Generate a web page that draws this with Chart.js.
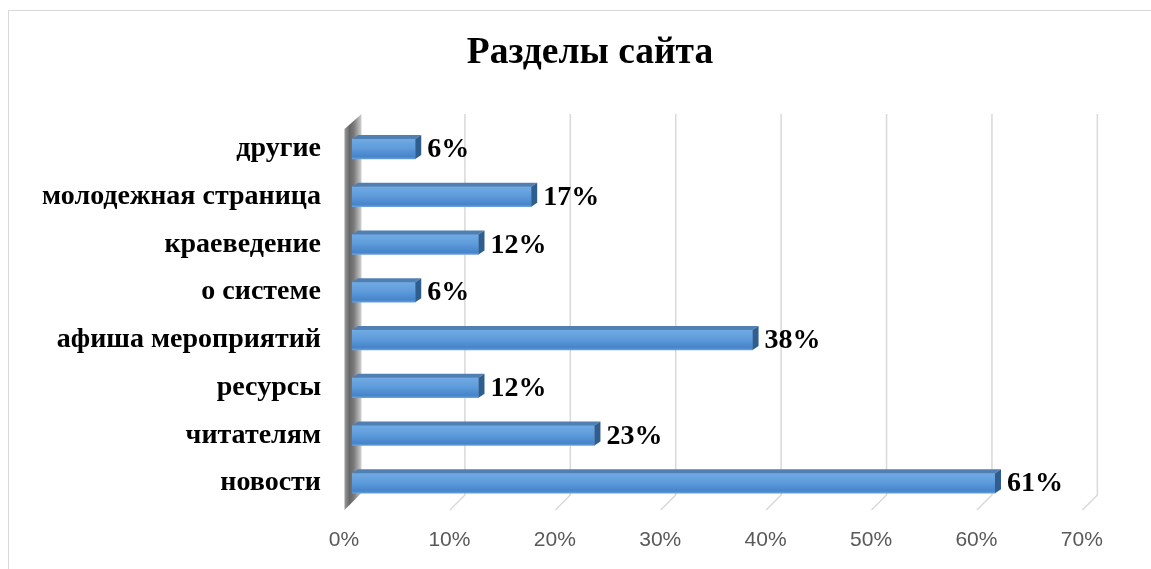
<!DOCTYPE html>
<html><head><meta charset="utf-8">
<script src="https://cdn.jsdelivr.net/npm/chart.js@4.4.0/dist/chart.umd.min.js"></script>
<style>html,body{margin:0;padding:0;background:#fff;} #wrap{width:1151px;height:569px;position:relative;} canvas{display:block;}</style>
</head><body><div id="wrap"><canvas id="c" width="1151" height="569"></canvas></div>
<script>
const titleText = 'Разделы сайта';
const categories = ['другие','молодежная страница','краеведение','о системе','афиша мероприятий','ресурсы','читателям','новости'];
const shares = [6,17,12,6,38,12,23,61];
const xTicks = [0,10,20,30,40,50,60,70];

const SERIF = '"Liberation Serif","Times New Roman",serif';
const DX = 6, DY = 4, DEPTH = 15;

const deco = {
  id: 'deco',
  beforeDraw(chart) {
    const c = chart.ctx;
    c.save();
    c.strokeStyle = '#d9d9d9'; c.lineWidth = 1;
    c.strokeRect(8.5, 10.5, 1400, 800);
    c.restore();
  },
  beforeDatasetsDraw(chart) {
    const {ctx, chartArea: a, scales: {x}} = chart;
    const backTop = a.top - 11, backBot = a.bottom - 12;
    ctx.save();
    ctx.strokeStyle = '#d9d9d9'; ctx.lineWidth = 1.5;
    xTicks.forEach(v => {
      if (v === 0) return;
      const bx = x.getPixelForValue(v) + DEPTH / 2;
      ctx.beginPath();
      ctx.moveTo(bx, backTop);
      ctx.lineTo(bx, backBot);
      ctx.lineTo(bx - DEPTH, backBot + DEPTH);
      ctx.stroke();
    });
    const wx = x.getPixelForValue(0) + DEPTH / 2 + 2;
    const W = DEPTH + 2;
    const g = ctx.createLinearGradient(wx - W, 0, wx, 0);
    g.addColorStop(0, '#9a9a9a');
    g.addColorStop(0.3, '#666666');
    g.addColorStop(0.55, '#7a7a7a');
    g.addColorStop(1, '#d0d0d0');
    ctx.fillStyle = g;
    ctx.beginPath();
    ctx.moveTo(wx, backTop);
    ctx.lineTo(wx, backBot - 2);
    ctx.lineTo(wx - W, backBot + DEPTH);
    ctx.lineTo(wx - W, backTop + DEPTH);
    ctx.closePath();
    ctx.fill();
    ctx.restore();
  },
  afterDatasetsDraw(chart) {
    const meta = chart.getDatasetMeta(0);
    const ctx = chart.ctx;
    ctx.save();
    meta.data.forEach((bar, i) => {
      const p = bar.getProps(['x', 'y', 'base', 'height'], true);
      const x1 = p.x, x0 = p.base, y = p.y, h = p.height;
      const top = y - h / 2, bot = y + h / 2;
      ctx.fillStyle = '#4f7fb3';
      ctx.beginPath();
      ctx.moveTo(x0, top); ctx.lineTo(x0 + DX, top - DY); ctx.lineTo(x1 + DX, top - DY); ctx.lineTo(x1, top);
      ctx.closePath(); ctx.fill();
      ctx.fillStyle = '#2f5e8e';
      ctx.beginPath();
      ctx.moveTo(x1, top); ctx.lineTo(x1 + DX, top - DY); ctx.lineTo(x1 + DX, bot - DY); ctx.lineTo(x1, bot);
      ctx.closePath(); ctx.fill();
      ctx.fillStyle = '#000';
      ctx.font = 'bold 28px ' + SERIF;
      ctx.textBaseline = 'middle';
      ctx.textAlign = 'left';
      ctx.fillText(shares[i] + '%', x1 + DX + 6, y + 1);
    });
    ctx.restore();
  }
};

new Chart(document.getElementById('c'), {
  type: 'bar',
  data: {
    labels: categories,
    datasets: [{
      data: shares,
      barThickness: 20,
      borderWidth: 0,
      backgroundColor: (c) => {
        const s = c.chart.scales && c.chart.scales.y;
        if (!s || !c.chart.chartArea || c.dataIndex === undefined) return '#5b9bd5';
        const yc = s.getPixelForValue(c.dataIndex);
        const g = c.chart.ctx.createLinearGradient(0, yc - 10, 0, yc + 10);
        g.addColorStop(0, '#72abe4');
        g.addColorStop(0.45, '#5e9cdb');
        g.addColorStop(0.9, '#4684cb');
        g.addColorStop(1, '#6a9fd6');
        return g;
      }
    }]
  },
  options: {
    indexAxis: 'y',
    responsive: false,
    animation: false,
    devicePixelRatio: 1,
    layout: { padding: { left: 29, right: 0, top: 0, bottom: 0 } },
    plugins: {
      legend: { display: false },
      tooltip: { enabled: false },
      title: {
        display: true,
        text: titleText,
        color: '#000',
        font: { family: SERIF, size: 37.5, weight: 'bold', lineHeight: 1.2 },
        padding: { top: 30.5, bottom: 49.5 }
      }
    },
    scales: {
      x: {
        min: 0, max: 75.8,
        afterBuildTicks: (s) => { s.ticks = xTicks.map(v => ({ value: v })); },
        afterFit: (s) => { s.height = 62; },
        grid: { display: false, drawTicks: false },
        border: { display: false },
        ticks: {
          color: '#595959',
          padding: 21,
          labelOffset: -8,
          maxRotation: 0,
          font: { family: '"Liberation Sans", Arial, sans-serif', size: 21 },
          callback: (v) => v + '%'
        }
      },
      y: {
        grid: { display: false, drawTicks: false },
        border: { display: false },
        afterFit: (s) => { s.width = 323; },
        ticks: {
          color: '#000',
          padding: 31,
          font: { family: SERIF, size: 28, weight: 'bold' }
        }
      }
    }
  },
  plugins: [deco]
});
</script>
</body></html>
